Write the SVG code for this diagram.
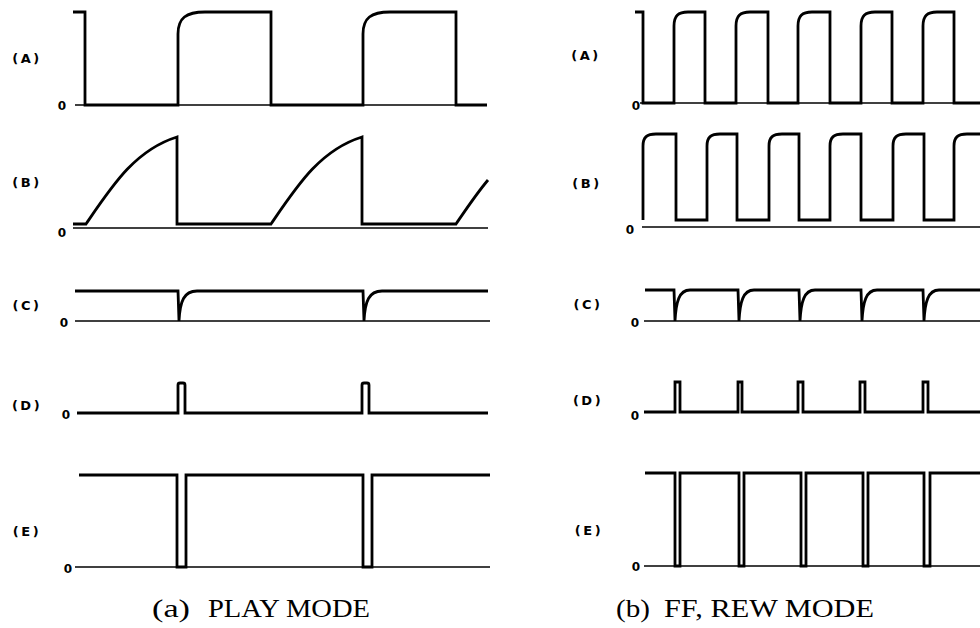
<svg xmlns="http://www.w3.org/2000/svg" width="980" height="628" viewBox="0 0 980 628">
<style>
.w{fill:none;stroke:#000;stroke-width:2.8;stroke-linejoin:miter;stroke-linecap:butt}
.z{fill:none;stroke:#000;stroke-width:1.3}
.lb{font-family:"DejaVu Sans",sans-serif;font-weight:bold;font-size:13px;letter-spacing:2.5px;fill:#000;text-anchor:middle}
.o{font-family:"DejaVu Sans",sans-serif;font-weight:bold;font-size:12px;fill:#000;text-anchor:middle}
.t{font-family:"Liberation Serif","Times New Roman",serif;font-size:25px;fill:#000}
</style>
<rect width="980" height="628" fill="#fff"/>

<g id="panel-a">
  <g id="a-A">
    <text class="lb" x="27" y="63">(A)</text>
    <text class="o" x="62" y="110">0</text>
    <path class="z" d="M75,105 H487"/>
    <path class="w" d="M73,12 H85 V105 H178 V34 C178,18 186,12 205,12 H271 V105 H363 V34 C363,18 371,12 390,12 H456 V105 H487"/>
  </g>
  <g id="a-B">
    <text class="lb" x="27" y="187">(B)</text>
    <text class="o" x="62" y="237">0</text>
    <path class="z" d="M73,228 H488"/>
    <path class="w" d="M73,224 H86 C112,186 135,150 177,137 V224 H271 C297,186 320,150 362,137 V224 H456 C466.4,208.8 476.3,193.9 488,180"/>
  </g>
  <g id="a-C">
    <text class="lb" x="27" y="310">(C)</text>
    <text class="o" x="64" y="327">0</text>
    <path class="z" d="M75,321 H490"/>
    <path class="w" d="M75,291 H178 L179,321 C180,301 184,291 197,291 H363 L364,321 C365,301 369,291 382,291 H488"/>
  </g>
  <g id="a-D">
    <text class="lb" x="27" y="410">(D)</text>
    <text class="o" x="66" y="419">0</text>
    <path class="w" d="M77,413 H178 V385 Q178,383 180,383 H183 Q185,383 185,385 V413 H362 V385 Q362,383 364,383 H367 Q369,383 369,385 V413 H488"/>
  </g>
  <g id="a-E">
    <text class="lb" x="27" y="536">(E)</text>
    <text class="o" x="68" y="573">0</text>
    <path class="z" d="M75,567 H490"/>
    <path class="w" d="M79,475 H177 V567 H186 V475 H363 V567 H372 V475 H490"/>
  </g>
  <text class="t" y="617"><tspan x="152" textLength="38" lengthAdjust="spacingAndGlyphs">(a)</tspan><tspan x="208" textLength="162" lengthAdjust="spacingAndGlyphs">PLAY MODE</tspan></text>
</g>

<g id="panel-b">
  <g id="b-A">
    <text class="lb" x="586" y="60">(A)</text>
    <text class="o" x="636" y="110">0</text>
    <path class="z" d="M640,103 H980"/>
    <path class="w" d="M635,12 H643 V103 H674 V26 C674,16 678,12 688,12 H705 V103 H736 V26 C736,16 740,12 750,12 H768 V103 H798 V26 C798,16 802,12 812,12 H830 V103 H861 V26 C861,16 865,12 875,12 H892 V103 H923 V26 C923,16 927,12 937,12 H954 V103 H981"/>
  </g>
  <g id="b-B">
    <text class="lb" x="587" y="188">(B)</text>
    <text class="o" x="630" y="234">0</text>
    <path class="z" d="M642,227 H980"/>
    <path class="w" d="M643,220 V146 C643,137 647,134 656,134 H676 V220 H707 V146 C707,137 711,134 720,134 H737 V220 H769 V146 C769,137 773,134 782,134 H799 V220 H830 V146 C830,137 834,134 843,134 H861 V220 H893 V146 C893,137 897,134 906,134 H924 V220 H954 V146 C954,137 958,134 967,134 H981"/>
  </g>
  <g id="b-C">
    <text class="lb" x="588" y="309">(C)</text>
    <text class="o" x="635" y="327">0</text>
    <path class="z" d="M644,321 H980"/>
    <path class="w" d="M645,290 H674 L675,321 C676,302 679,290 690,290 H738 L739,321 C740,302 743,290 754,290 H799 L800,321 C801,302 804,290 815,290 H861 L862,321 C863,302 866,290 877,290 H923 L924,321 C925,302 928,290 939,290 H981"/>
  </g>
  <g id="b-D">
    <text class="lb" x="588" y="405">(D)</text>
    <text class="o" x="635" y="420">0</text>
    <path class="w" d="M644,412 H675 V382 H680 V412 H738 V382 H742 V412 H798 V382 H803 V412 H860 V382 H865 V412 H923 V382 H928 V412 H981"/>
  </g>
  <g id="b-E">
    <text class="lb" x="589" y="535">(E)</text>
    <text class="o" x="636" y="571">0</text>
    <path class="z" d="M644,566 H980"/>
    <path class="w" d="M645,473 H675 V566 H680 V473 H739 V566 H744 V473 H801 V566 H806 V473 H863 V566 H868 V473 H924 V566 H930 V473 H981"/>
  </g>
  <text class="t" y="617"><tspan x="616" textLength="34" lengthAdjust="spacingAndGlyphs">(b)</tspan><tspan x="664" textLength="210" lengthAdjust="spacingAndGlyphs">FF, REW MODE</tspan></text>
</g>
</svg>
